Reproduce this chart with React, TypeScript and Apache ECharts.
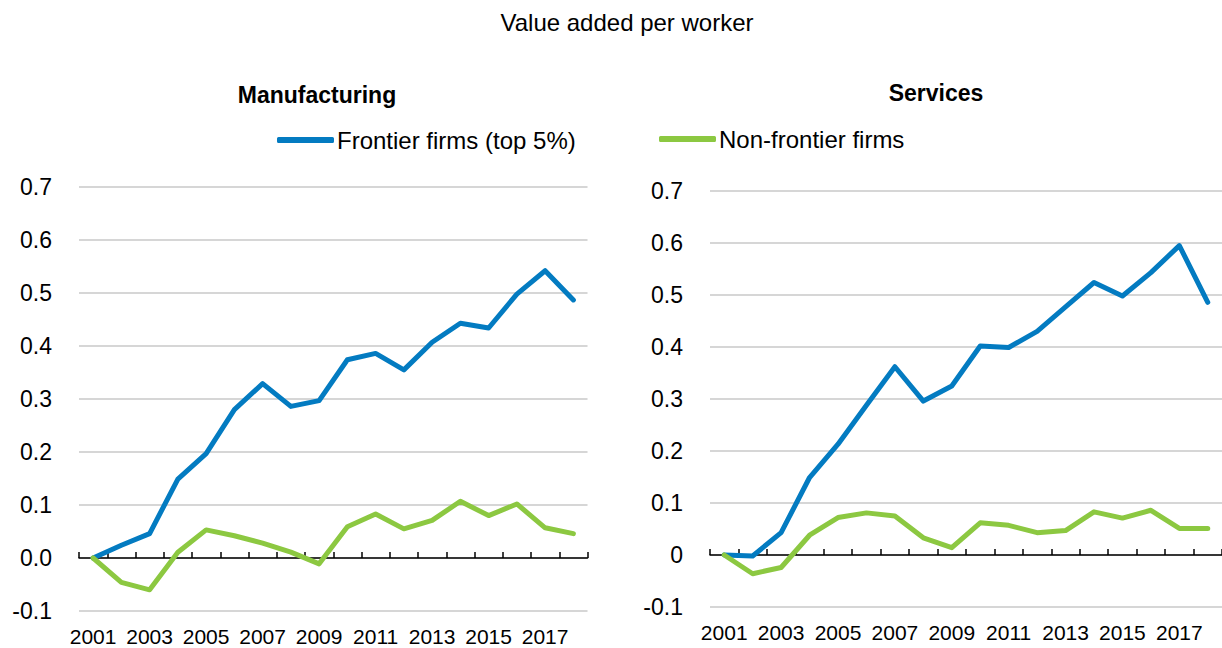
import React, { useEffect, useRef } from "react";
import * as echarts from "echarts";

const years = ["2001","2002","2003","2004","2005","2006","2007","2008","2009","2010","2011","2012","2013","2014","2015","2016","2017","2018"];

const manufFrontier = [0.0, 0.024, 0.046, 0.149, 0.197, 0.28, 0.329, 0.286, 0.297, 0.374, 0.386, 0.355, 0.407, 0.443, 0.434, 0.498, 0.542, 0.487];
const manufNonFrontier = [0.0, -0.046, -0.06, 0.011, 0.053, 0.042, 0.028, 0.011, -0.011, 0.059, 0.083, 0.055, 0.071, 0.107, 0.08, 0.102, 0.057, 0.046];

const servFrontier = [0.0, -0.002, 0.043, 0.149, 0.213, 0.288, 0.362, 0.296, 0.325, 0.402, 0.399, 0.43, 0.477, 0.524, 0.498, 0.543, 0.595, 0.486];
const servNonFrontier = [0.0, -0.036, -0.024, 0.038, 0.072, 0.081, 0.075, 0.033, 0.014, 0.062, 0.057, 0.043, 0.047, 0.083, 0.071, 0.086, 0.051, 0.051];

const mainTitle = "Value added per worker";
const panelTitles = ["Manufacturing", "Services"];
const seriesNames = ["Frontier firms (top 5%)", "Non-frontier firms"];
const colors = ["#037BC1", "#8CC841"];

const FONT = "'Liberation Sans', Arial, sans-serif";

export default function App() {
  const ref = useRef<HTMLDivElement>(null);
  useEffect(() => {
    if (!ref.current) return;
    const chart = echarts.init(ref.current, undefined, { renderer: "svg" });

    const grids = [
      { left: 79, top: 187, width: 508.5, height: 424 },
      { left: 710, top: 191, width: 515, height: 416 },
    ];

    const xAxes = grids.map((_, i) => ({
      type: "category",
      gridIndex: i,
      data: years,
      boundaryGap: true,
      axisLine: { onZero: true, lineStyle: { color: "#000", width: 1.5 } },
      axisTick: { show: true, inside: true, length: 6, interval: 0, lineStyle: { color: "#000", width: 1.5 } },
      axisLabel: {
        interval: 1,
        hideOverlap: false,
        color: "#000",
        fontSize: 21,
        fontFamily: FONT,
        margin: 15,
      },
      splitLine: { show: false },
    }));

    const yAxes = grids.map((_, i) => ({
      type: "value",
      gridIndex: i,
      min: -0.1,
      max: 0.7,
      interval: 0.1,
      axisLine: { show: false },
      axisTick: { show: false },
      axisLabel: {
        color: "#000",
        fontSize: 23,
        fontFamily: FONT,
        margin: 27,
        formatter: (v: number) => {
          const r = Math.round(v * 10) / 10;
          if (i === 1 && r === 0) return "0";
          return r.toFixed(1);
        },
      },
      splitLine: { show: true, lineStyle: { color: "#c8c8c8", width: 1.5 } },
    }));

    const mk = (name: string, data: number[], idx: number, color: string) => ({
      name,
      type: "line",
      xAxisIndex: idx,
      yAxisIndex: idx,
      data,
      symbol: "none",
      lineStyle: { color, width: 5, cap: "round", join: "round" },
      itemStyle: { color },
      z: name === seriesNames[0] ? 3 : 4,
    });

    const legendCommon = {
      orient: "horizontal",
      icon: "roundRect",
      itemWidth: 57,
      itemHeight: 6,
      itemGap: 0,
      padding: 0,
      textStyle: { color: "#000", fontSize: 24, fontFamily: FONT, padding: [0, 0, 0, -2], lineHeight: 30 },
    };

    chart.setOption({
      animation: false,
      backgroundColor: "#fff",
      grid: grids,
      xAxis: xAxes,
      yAxis: yAxes,
      legend: [
        { ...legendCommon, left: 277, top: 125, data: [seriesNames[0]] },
        { ...legendCommon, left: 659, top: 124, data: [seriesNames[1]] },
      ],
      graphic: [
        {
          type: "text",
          x: 627,
          y: 22,
          style: { text: mainTitle, fill: "#000", font: `24px ${FONT}`, textAlign: "center", textVerticalAlign: "middle" },
        },
        {
          type: "text",
          x: 317,
          y: 95,
          style: { text: panelTitles[0], fill: "#000", font: `bold 23px ${FONT}`, textAlign: "center", textVerticalAlign: "middle" },
        },
        {
          type: "text",
          x: 936,
          y: 93,
          style: { text: panelTitles[1], fill: "#000", font: `bold 23px ${FONT}`, textAlign: "center", textVerticalAlign: "middle" },
        },
      ],
      series: [
        mk(seriesNames[0], manufFrontier, 0, colors[0]),
        mk(seriesNames[1], manufNonFrontier, 0, colors[1]),
        mk(seriesNames[0], servFrontier, 1, colors[0]),
        mk(seriesNames[1], servNonFrontier, 1, colors[1]),
      ],
    });

    return () => chart.dispose();
  }, []);

  return (
    <div
      ref={ref}
      style={{ position: "absolute", left: 0, top: 0, width: 1222, height: 648, background: "#fff" }}
    />
  );
}
